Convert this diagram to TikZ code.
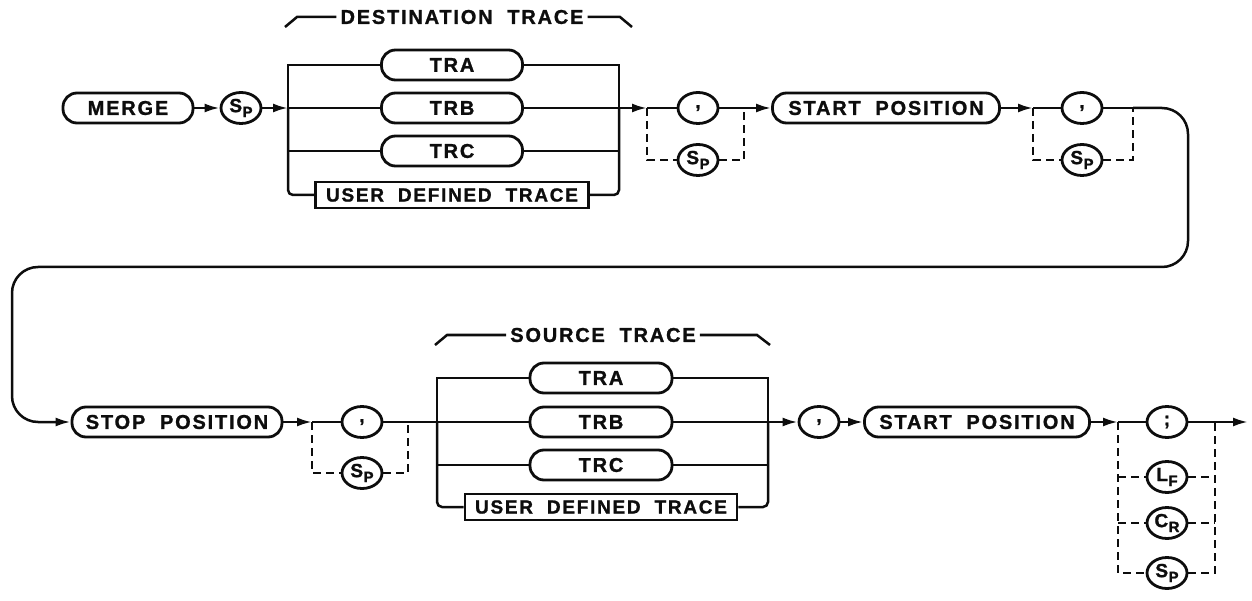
\documentclass[tikz,border=0pt]{standalone}
\usepackage{fontspec}
\setmainfont{Liberation Sans}[LetterSpace=9,WordSpace=2.0,BoldFeatures={FakeBold=1.2}]
\usetikzlibrary{arrows.meta,calc,shapes.geometric}
\definecolor{ink}{gray}{0.05}
\newcommand\subch[2]{#1\kern0.5pt\raisebox{-5pt}{\fontsize{15}{15}\selectfont#2}}
\tikzset{line/.style={draw=ink,line width=2.5pt},
         flow/.style={line,-{Latex[length=15pt,width=9pt]}},
         opt/.style={line,dash pattern=on 8pt off 5pt},
         kw/.style={draw=ink,line width=2.8pt,rounded corners=14pt,minimum height=30pt,inner sep=0pt},
         box/.style={draw=ink,line width=2.8pt,minimum height=26pt,inner sep=0pt,
                     font=\bfseries\fontsize{19}{22}\selectfont},
         ch/.style={draw=ink,ellipse,line width=2.8pt,minimum width=40pt,minimum height=31pt,inner sep=0pt,
                    font=\bfseries\fontsize{19}{21}\selectfont},
         grouplabel/.style={inner sep=4pt}}

\begin{document}
\begin{tikzpicture}[x=1pt,y=-1pt,font=\bfseries\fontsize{20}{24}\selectfont,text=ink]
  \useasboundingbox (0,0) rectangle (1252,601);
  \begin{scope}
    \node[kw,minimum width=130pt] (merge) at (128,108) {MERGE};
    \node[ch] (sp1) at (241,108) {\subch SP};
    \coordinate (bl1) at (288,108);
    \coordinate (br1) at (619,108);
    \node[kw,minimum width=141pt] (tra1) at (452,65) {TRA};
    \node[kw,minimum width=141pt] (trb1) at (452,108) {TRB};
    \node[kw,minimum width=141pt] (trc1) at (452,151) {TRC};
    \node[box,minimum width=273pt] (udt1) at (452,195) {USER DEFINED TRACE};
    \node[grouplabel] (dest) at (462,17) {DESTINATION TRACE};
    \coordinate (dl1) at (285,27);
    \coordinate (dr1) at (632,27);
    \coordinate (o1l) at (647,108);
    \coordinate (o1r) at (744,108);
    \node[ch] (cm1) at (698,108) {\raisebox{-3pt}{,}};
    \node[ch] (sp2) at (698,160) {\subch SP};
    \node[kw,minimum width=227pt] (start1) at (886,108) {START POSITION};
    \coordinate (o2l) at (1033,108);
    \coordinate (o2r) at (1133,108);
    \node[ch] (cm2) at (1082,108) {\raisebox{-3pt}{,}};
    \node[ch] (sp3) at (1082,160) {\subch SP};
    \coordinate (rt) at (1188,267);
    \coordinate (lt) at (12,267);

    \draw[flow] (merge) -- (sp1);
    \draw[flow] (sp1) -- (bl1);
    \draw[line] (bl1) -- (trb1);
    \draw[line] (tra1.west) -| (bl1);
    \draw[line] (trc1.west) -- (trc1.west -| bl1);
    \draw[line,rounded corners=5pt] (bl1) |- (udt1.west);
    \draw[line] (trb1) -- (br1);
    \draw[line] (tra1.east) -| (br1);
    \draw[line] (trc1.east) -- (trc1.east -| br1);
    \draw[line,rounded corners=5pt] (udt1.east) -| (br1);
    \draw[line] (dl1) -- ++(12,-10) -- (dest.west);
    \draw[line] (dest.east) -- ($(dr1)+(-12,-10)$) -- (dr1);
    \draw[flow] (br1) -- (o1l);
    \draw[line] (o1l) -- (cm1);
    \draw[line] (cm1) -- (o1r);
    \draw[opt] (o1l) |- (sp2);
    \draw[opt] (sp2) -| (o1r);
    \draw[flow] (o1r) -- (start1);
    \draw[flow] (start1) -- (o2l);
    \draw[line] (o2l) -- (cm2);
    \draw[line] (cm2) -- (o2r);
    \draw[opt] (o2l) |- (sp3);
    \draw[opt] (sp3) -| (o2r);
  \end{scope}
  \begin{scope}
    \node[kw,minimum width=210pt] (stop) at (177,422) {STOP POSITION};
    \coordinate (o3l) at (312,422);
    \coordinate (o3r) at (408,422);
    \node[ch] (cm3) at (362,422) {\raisebox{-3pt}{,}};
    \node[ch] (sp4) at (362,473) {\subch SP};
    \coordinate (bl2) at (437,422);
    \coordinate (br2) at (768,422);
    \node[kw,minimum width=142pt] (tra2) at (601,378) {TRA};
    \node[kw,minimum width=142pt] (trb2) at (601,422) {TRB};
    \node[kw,minimum width=142pt] (trc2) at (601,465) {TRC};
    \node[box,minimum width=272pt] (udt2) at (601,507) {USER DEFINED TRACE};
    \node[grouplabel] (src) at (603,335) {SOURCE TRACE};
    \coordinate (dl2) at (435,345);
    \coordinate (dr2) at (770,345);
    \node[ch] (cm4) at (819,422) {\raisebox{-3pt}{,}};
    \node[kw,minimum width=225pt] (start2) at (977,422) {START POSITION};
    \coordinate (o4l) at (1118,422);
    \coordinate (o4r) at (1215,422);
    \coordinate (out) at (1248,422);
    \node[ch] (semi) at (1167,422) {\raisebox{-2pt}{;}};
    \node[ch] (lf) at (1167,477) {\subch LF};
    \node[ch] (cr) at (1167,523) {\subch CR};
    \node[ch] (sp5) at (1167,573) {\subch SP};

    \draw[flow,rounded corners=26pt] (o2r) -| (rt) -- (lt) |- (stop.west);
    \draw[flow] (stop) -- (o3l);
    \draw[line] (o3l) -- (cm3);
    \draw[line] (cm3) -- (o3r);
    \draw[opt] (o3l) |- (sp4);
    \draw[opt] (sp4) -| (o3r);
    \draw[line] (o3r) -- (bl2);
    \draw[line] (bl2) -- (trb2);
    \draw[line] (tra2.west) -| (bl2);
    \draw[line] (trc2.west) -- (trc2.west -| bl2);
    \draw[line,rounded corners=5pt] (bl2) |- (udt2.west);
    \draw[line] (trb2) -- (br2);
    \draw[line] (tra2.east) -| (br2);
    \draw[line] (trc2.east) -- (trc2.east -| br2);
    \draw[line,rounded corners=5pt] (udt2.east) -| (br2);
    \draw[line] (dl2) -- ++(12,-10) -- (src.west);
    \draw[line] (src.east) -- ($(dr2)+(-13,-10)$) -- (dr2);
    \draw[flow] (br2) -- (cm4);
    \draw[flow] (cm4) -- (start2);
    \draw[flow] (start2) -- (o4l);
    \draw[line] (o4l) -- (semi);
    \draw[line] (semi) -- (o4r);
    \draw[flow] (o4r) -- (out);
    \draw[opt] (o4l) |- (sp5);
    \draw[opt] (o4l |- lf) -- (lf);
    \draw[opt] (o4l |- cr) -- (cr);
    \draw[opt] (sp5) -| (o4r);
    \draw[opt] (lf) -- (lf -| o4r);
    \draw[opt] (cr) -- (cr -| o4r);
  \end{scope}
\end{tikzpicture}
\end{document}
